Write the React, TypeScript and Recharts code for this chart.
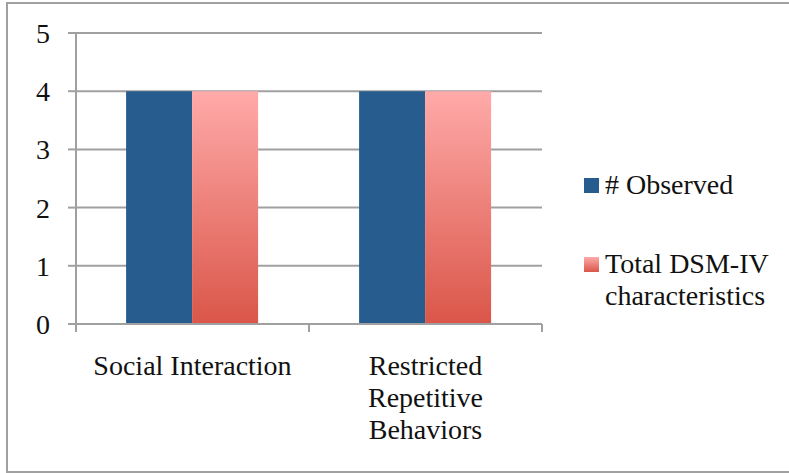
import React from 'react';
import { BarChart, Bar, XAxis, YAxis, CartesianGrid, Legend } from 'recharts';

const categories = ['Social Interaction', 'Restricted Repetitive Behaviors'];
const observed = [4, 4];
const totalDsm = [4, 4];
const yTicks = [0, 1, 2, 3, 4, 5];

const seriesNames = { observed: '# Observed', total: 'Total DSM-IV characteristics' };

const data = categories.map((category, i) => ({
  category,
  observed: observed[i],
  total: totalDsm[i],
}));

const FONT = '"Liberation Serif", "Times New Roman", serif';
const GRID = '#a0a0a0';
const BLUE = '#265c8e';
const TICK_SIZE = 8;
const TICK_MARGIN = 25;

let measureCtx: CanvasRenderingContext2D | null = null;
function wrapWords(text: string, maxWidth: number): string[] {
  if (!measureCtx) measureCtx = document.createElement('canvas').getContext('2d');
  const ctx = measureCtx!;
  ctx.font = `28px ${FONT}`;
  const lines: string[] = [];
  let cur = '';
  for (const w of text.split(' ')) {
    const next = cur ? cur + ' ' + w : w;
    if (cur && ctx.measureText(next).width > maxWidth) {
      lines.push(cur);
      cur = w;
    } else {
      cur = next;
    }
  }
  if (cur) lines.push(cur);
  return lines;
}

const CategoryTick = (props: any) => {
  const { x, y, payload, index, visibleTicksCount, width } = props;
  const band = (width || 466) / (visibleTicksCount || categories.length);
  const axisY = y - TICK_SIZE - TICK_MARGIN;
  const left = x - band / 2;
  const right = x + band / 2;
  const lines = wrapWords(String(payload.value), 212);
  return (
    <g>
      <line x1={left} x2={left} y1={axisY} y2={axisY + TICK_SIZE} stroke={GRID} strokeWidth={2} />
      {index === visibleTicksCount - 1 && (
        <line x1={right} x2={right} y1={axisY} y2={axisY + TICK_SIZE} stroke={GRID} strokeWidth={2} />
      )}
      <text x={x} y={y + 18} textAnchor="middle" fill="#111" style={{ fontSize: 28, fontFamily: FONT }}>
        {lines.map((l, i) => (
          <tspan key={i} x={x} dy={i === 0 ? 0 : 32}>
            {l}
          </tspan>
        ))}
      </text>
    </g>
  );
};

const LegendBox = () => (
  <div style={{ fontFamily: FONT, fontSize: 28, lineHeight: '32px', color: '#111', textAlign: 'left' }}>
    <div style={{ display: 'flex', alignItems: 'flex-start' }}>
      <span style={{ width: 15, height: 15, marginTop: 9, marginRight: 6, background: BLUE, flex: 'none' }} />
      <span>{seriesNames.observed}</span>
    </div>
    <div style={{ display: 'flex', alignItems: 'flex-start', marginTop: 47 }}>
      <span
        style={{
          width: 15,
          height: 15,
          marginTop: 9,
          marginRight: 6,
          background: 'linear-gradient(#ffaaa9, #da5649)',
          flex: 'none',
        }}
      />
      <span style={{ width: 175 }}>{seriesNames.total}</span>
    </div>
  </div>
);

export default function App() {
  return (
    <div style={{ position: 'absolute', left: 0, top: 0, width: 789, height: 473, overflow: 'hidden', background: '#fff' }}>
      <div
        style={{
          position: 'absolute',
          left: 6,
          top: 2,
          width: 800,
          height: 471,
          boxSizing: 'border-box',
          border: `2px solid ${GRID}`,
        }}
      />
      <div style={{ position: 'absolute', left: 0, top: 0 }}>
        <BarChart
          width={789}
          height={473}
          data={data}
          margin={{ top: 33, right: 247, bottom: 109, left: 16 }}
          barCategoryGap="21.5%"
          barGap={0}
        >
          <defs>
            <linearGradient id="pinkGrad" x1="0" y1="0" x2="0" y2="1">
              <stop offset="0%" stopColor="#ffaaa9" />
              <stop offset="100%" stopColor="#da5649" />
            </linearGradient>
          </defs>
          <CartesianGrid vertical={false} stroke={GRID} strokeWidth={2} />
          <XAxis
            dataKey="category"
            axisLine={{ stroke: GRID, strokeWidth: 2 }}
            tickLine={false}
            tickSize={TICK_SIZE}
            tickMargin={TICK_MARGIN}
            interval={0}
            height={40}
            tick={<CategoryTick />}
          />
          <YAxis
            width={60}
            domain={[0, 5]}
            ticks={yTicks}
            interval={0}
            axisLine={{ stroke: GRID, strokeWidth: 2 }}
            tickLine={{ stroke: GRID, strokeWidth: 2 }}
            tickSize={TICK_SIZE}
            tickMargin={18}
            tick={{ fontSize: 28, fontFamily: FONT, fill: '#111' }}
          />
          <Legend
            layout="horizontal"
            align="center"
            verticalAlign="middle"
            content={<LegendBox />}
            wrapperStyle={{ left: 584, top: 169, width: 205 }}
          />
          <Bar dataKey="observed" name={seriesNames.observed} fill={BLUE} isAnimationActive={false} />
          <Bar dataKey="total" name={seriesNames.total} fill="url(#pinkGrad)" isAnimationActive={false} />
        </BarChart>
      </div>
    </div>
  );
}
